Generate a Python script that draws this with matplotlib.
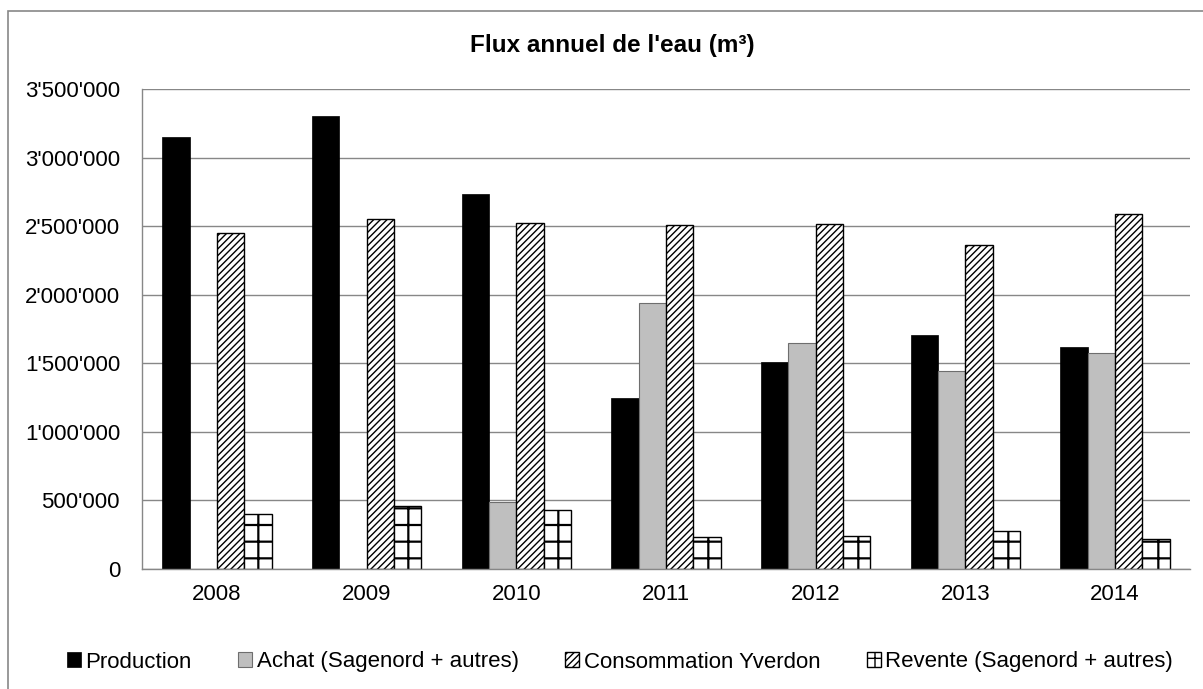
import matplotlib
matplotlib.use("Agg")
import matplotlib.pyplot as plt
import numpy as np
from matplotlib.patches import Rectangle
from matplotlib.ticker import FuncFormatter

years = ['2008', '2009', '2010', '2011', '2012', '2013', '2014']
production = [3150000, 3305000, 2732000, 1249000, 1507000, 1704000, 1619000]
achat = [0, 0, 486000, 1940000, 1650000, 1444000, 1577000]
consommation = [2450000, 2550000, 2525000, 2510000, 2518000, 2362000, 2589000]
revente = [401000, 462000, 428000, 231000, 238000, 275000, 217000]
labels = ['Production', 'Achat (Sagenord + autres)', 'Consommation Yverdon',
          'Revente (Sagenord + autres)']

plt.rcParams['font.family'] = ['Liberation Sans', 'DejaVu Sans']
plt.rcParams['hatch.linewidth'] = 1.0

W, H = 1203, 689
fig = plt.figure(figsize=(W / 100, H / 100), dpi=100)
ax = fig.add_axes([142 / W, 1 - 569 / H, (1190 - 142) / W, (569 - 89) / H])

x = np.arange(len(years))
w = 0.1825
b1 = ax.bar(x - 1.5 * w, production, w, color='black', edgecolor='black', linewidth=0.5, label=labels[0])
b2 = ax.bar(x - 0.5 * w, achat, w, color='#bfbfbf', edgecolor='#6e6e6e', linewidth=0.8, label=labels[1])
b3 = ax.bar(x + 0.5 * w, consommation, w, color='white', edgecolor='black', linewidth=1.0,
            hatch='/////', label=labels[2])
b4 = ax.bar(x + 1.5 * w, revente, w, color='white', edgecolor='black', linewidth=1.0,
            hatch='+', label=labels[3])
for p in b4:
    if hasattr(p, 'set_hatch_linewidth'):
        p.set_hatch_linewidth(1.6)

ax.set_xlim(-0.5, len(years) - 0.5)
ax.set_ylim(0, 3500000)
ax.set_yticks(np.arange(0, 3500001, 500000))
ax.yaxis.set_major_formatter(FuncFormatter(lambda v, p: f"{int(v):,}".replace(',', "'")))
ax.set_xticks(x)
ax.set_xticklabels(years)
ax.tick_params(axis='y', length=0, pad=15.8, labelsize=16)
ax.tick_params(axis='x', length=0, pad=11, labelsize=16)

ax.set_axisbelow(True)
ax.grid(axis='y', color='#878787', linewidth=1.0)
for s in ['top', 'right']:
    ax.spines[s].set_visible(False)
ax.spines['left'].set_color('#878787')
ax.spines['bottom'].set_color('#878787')
ax.spines['left'].set_linewidth(1.0)
ax.spines['bottom'].set_linewidth(1.0)

fig.text(612 / W, 1 - 45.5 / H, "Flux annuel de l'eau (m³)", ha='center', va='center',
         fontsize=17.5, fontweight='bold')

fig.legend(handles=[b1, b2, b3, b4], loc='center', bbox_to_anchor=(620 / W, 1 - 662 / H),
           ncol=4, frameon=False, fontsize=16, handlelength=0.62, handleheight=0.62,
           handletextpad=0.2, columnspacing=2.1, borderpad=0)

# chart frame (right and bottom edges fall outside the picture)
fig.add_artist(Rectangle((8 / W, -0.1), 1.2, 1.1 - 11 / H, transform=fig.transFigure,
                         fill=False, edgecolor='#878787', linewidth=1.2))

fig.savefig('out.png', dpi=100)
